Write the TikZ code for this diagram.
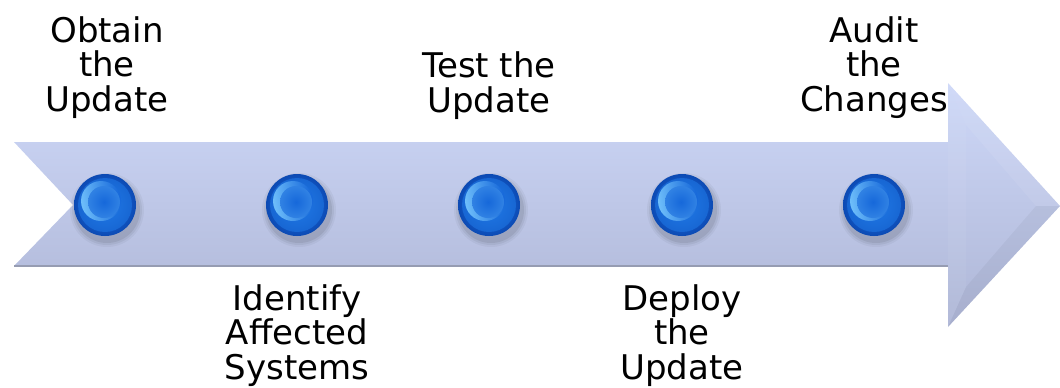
\documentclass[tikz,border=0pt]{standalone}
\usepackage{fontspec}
\setmainfont{DejaVu Sans}
\definecolor{arrowtop}{RGB}{206,216,248}
\definecolor{arrowbot}{RGB}{174,182,214}
\definecolor{arrowedge}{RGB}{150,156,178}
\definecolor{balldark}{RGB}{12,74,180}
\definecolor{ballmid}{RGB}{32,122,232}
\definecolor{balllight}{RGB}{110,190,250}
\definecolor{ballcap}{RGB}{22,104,218}
\begin{document}
\begin{tikzpicture}[x=1pt,y=-1pt,
  steplabel/.style={font=\fontsize{34}{34.5}\selectfont, align=center, anchor=base, inner sep=0pt},
  ball/.pic={
    % soft drop shadow
    \foreach \r/\o in {37/0.04,35/0.05,33/0.07}
      \fill[black,opacity=\o] (2,5) circle (\r);
    % body of the bead
    \shade[inner color=ballmid, outer color=balldark] (0,0) circle (31);
    \fill[ballmid,opacity=0.55] (0,0) circle (27);
    % raised cap with a light rim on its left
    \shade[left color=balllight, right color=ballcap, shading angle=100] (-4,-4) circle (20);
    \shade[inner color=ballcap, outer color=ballcap!70!balllight] (-1,-3) circle (16);
  }]
\useasboundingbox (0,0) rectangle (1060,388);

% the chevron-tailed arrow
\shade[top color=arrowtop, bottom color=arrowbot]
  (14,142) -- (948,142) -- (948,83) -- (1060,206) -- (948,327)
  -- (948,266) -- (14,266) -- (73,205) -- cycle;
% faint bevel facets of the head
\fill[white,opacity=0.07] (948,83) -- (1060,206) -- (1036,206) -- (966,125) -- cycle;
\fill[white,opacity=0.05] (948,83) -- (966,125) -- (966,287) -- (948,327) -- cycle;
\fill[black,opacity=0.04] (948,327) -- (1060,206) -- (1036,206) -- (966,287) -- cycle;
\draw[arrowedge,line width=1.5pt] (14,266) -- (948,266);

% beads along the arrow
\pic (b1) at (105,205) {ball};
\pic (b2) at (297,205) {ball};
\pic (b3) at (489,205) {ball};
\pic (b4) at (682,205) {ball};
\pic (b5) at (874,205) {ball};

% step labels (anchored at the baseline of their last line)
\node[steplabel] (t1) at (107,111) {Obtain\\the\\Update};
\node[steplabel] (t2) at (297,379) {Identify\\Affected\\Systems};
\node[steplabel] (t3) at (489,112) {Test the\\Update};
\node[steplabel] (t4) at (682,379) {Deploy\\the\\Update};
\node[steplabel] (t5) at (874,111) {Audit\\the\\Changes};
\end{tikzpicture}
\end{document}
